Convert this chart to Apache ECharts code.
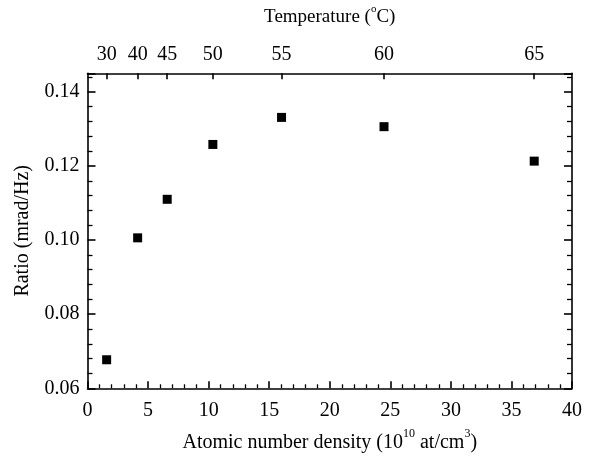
<!DOCTYPE html>
<html><head><meta charset="utf-8">
<script src="https://cdn.jsdelivr.net/npm/echarts@6/dist/echarts.min.js"></script>
<style>html,body{margin:0;padding:0;background:#fff}#c{width:590px;height:461px}</style>
</head><body><div id="c"></div>
<script>
const density = [1.58, 4.14, 6.58, 10.35, 16.02, 24.48, 36.88];
const ratio = [0.0677, 0.1006, 0.1110, 0.1258, 0.1331, 0.1306, 0.1213];
const temperature = [30, 40, 45, 50, 55, 60, 65];

const FONT = '"Liberation Serif", "Times New Roman", serif';
const lineStyle = { color: '#000', width: 1.6 };
const txt = { color: '#000', fontFamily: FONT, fontSize: 20 };
function supRich(size) {
  return {
    n: { color: '#000', fontFamily: FONT, fontSize: size, lineHeight: size + 4, verticalAlign: 'bottom' },
    s: { color: '#000', fontFamily: FONT, fontSize: Math.round(size * 0.6), lineHeight: size + 4, verticalAlign: 'top' }
  };
}

const chart = echarts.init(document.getElementById('c'), null, { renderer: 'canvas' });
chart.setOption({
  backgroundColor: '#fff',
  animation: false,
  grid: { left: 87.5, right: 18, top: 73.3, bottom: 72.7, containLabel: false, outerBoundsMode: 'none' },
  xAxis: [
    {
      type: 'value', position: 'bottom', min: 0, max: 40, interval: 5,
      axisLine: { show: true, onZero: false, lineStyle },
      axisTick: { show: true, inside: true, length: 7, lineStyle },
      minorTick: { show: true, splitNumber: 5, length: 4, lineStyle: { color: '#000', width: 1.3 } },
      splitLine: { show: false },
      axisLabel: { ...txt, margin: 12 },
      name: '{n|Atomic number density (10}{s|10}{n| at/cm}{s|3}{n|)}',
      nameLocation: 'middle', nameGap: 40,
      nameTextStyle: { rich: supRich(20) }
    },
    {
      type: 'value', position: 'top', min: 0, max: 40,
      axisLine: { show: true, onZero: false, lineStyle },
      axisTick: { show: true, inside: true, length: 6, customValues: density, lineStyle },
      splitLine: { show: false },
      axisLabel: {
        ...txt, margin: 9, customValues: density,
        formatter: function (v) {
          let best = 0;
          for (let i = 0; i < density.length; i++) {
            if (Math.abs(density[i] - v) < Math.abs(density[best] - v)) best = i;
          }
          return String(temperature[best]);
        }
      },
      name: '{n|Temperature (}{s|o}{n|C)}',
      nameLocation: 'middle', nameGap: 47,
      nameTextStyle: { rich: supRich(19) }
    }
  ],
  yAxis: [
    {
      type: 'value', position: 'left', min: 0.06, max: 0.145, interval: 0.02,
      axisLine: { show: true, onZero: false, lineStyle },
      axisTick: { show: true, inside: true, length: 8, lineStyle },
      minorTick: { show: true, splitNumber: 5, length: 5, lineStyle: { color: '#000', width: 1.3 } },
      splitLine: { show: false },
      axisLabel: { ...txt, margin: 8, showMaxLabel: false, formatter: v => v.toFixed(2) },
      name: 'Ratio (mrad/Hz)', nameLocation: 'middle', nameRotate: 90, nameGap: 55,
      nameTextStyle: { ...txt }
    },
    {
      type: 'value', position: 'right', min: 0.06, max: 0.145, interval: 0.02,
      axisLine: { show: true, onZero: false, lineStyle },
      axisTick: { show: true, inside: true, length: 8, lineStyle },
      minorTick: { show: true, splitNumber: 5, length: 5, lineStyle: { color: '#000', width: 1.3 } },
      splitLine: { show: false },
      axisLabel: { show: false }
    }
  ],
  series: [{
    type: 'scatter', xAxisIndex: 0, yAxisIndex: 0,
    symbol: 'rect', symbolSize: 9,
    itemStyle: { color: '#000', opacity: 1 },
    data: density.map((d, i) => [d, ratio[i]])
  }]
});
</script>
</body></html>
